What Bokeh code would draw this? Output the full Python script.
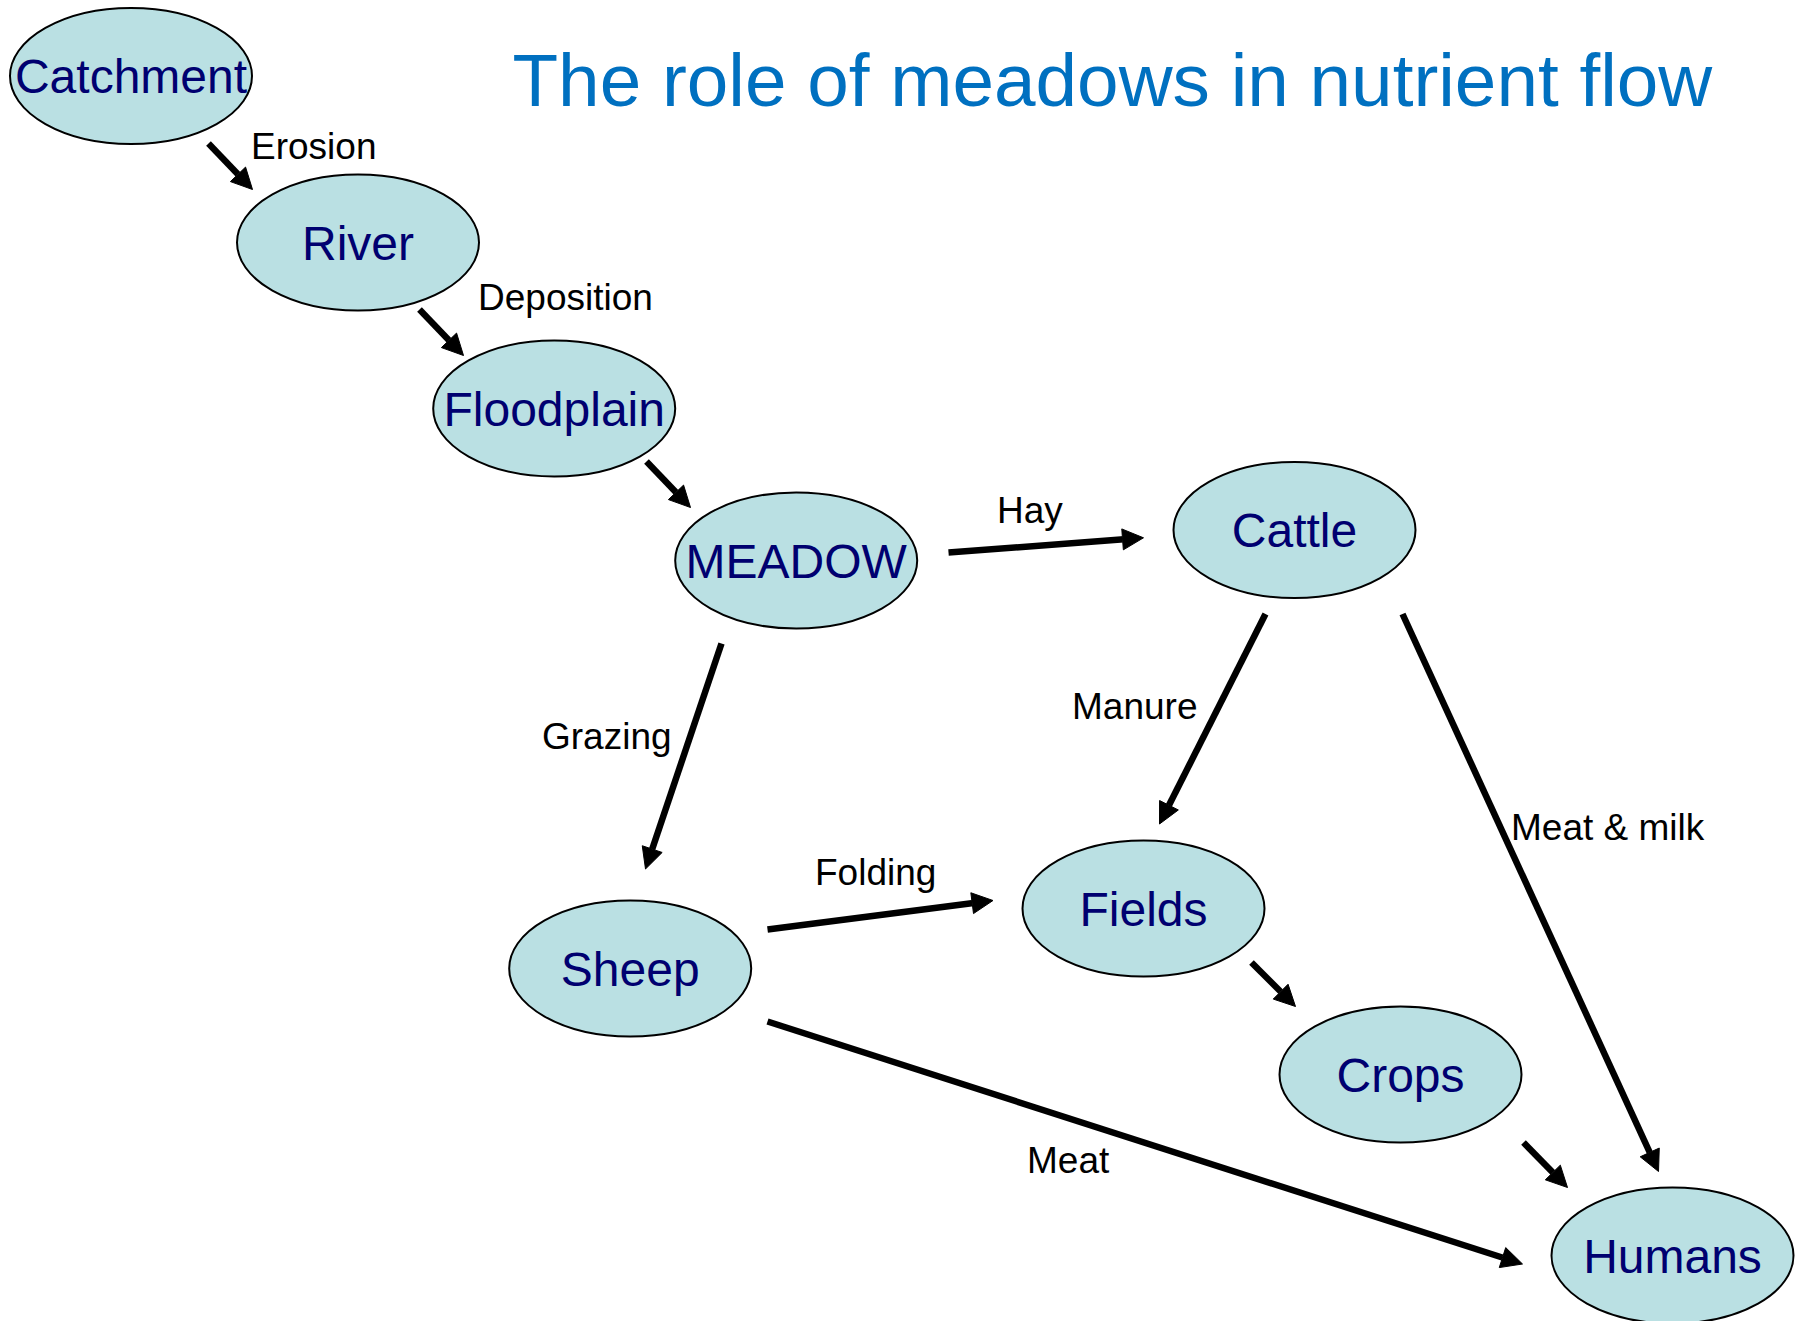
from bokeh.plotting import figure
from bokeh.models import ColumnDataSource, Range1d, Arrow, NormalHead
from bokeh.core.properties import value
from bokeh.embed import file_html
from bokeh.resources import INLINE

# ---- data (diagram layout in page pixels) ----
title = "The role of meadows in nutrient flow"

node_names = ["Catchment", "River", "Floodplain", "MEADOW", "Cattle",
              "Sheep", "Fields", "Crops", "Humans"]
node_x = [130.5, 357.5, 553.7, 795.7, 1294, 629.7, 1143, 1400, 1672]
node_y = [75.5, 242, 408, 560, 529.5, 968, 908, 1074, 1255]

edge_x0 = [208, 419, 646, 948, 721, 1265, 1402, 767, 1251, 1523, 767]
edge_y0 = [143, 309, 461, 552, 643, 613.5, 613.5, 929, 962, 1142, 1021]
edge_x1 = [252, 463, 690, 1143, 645, 1159, 1658, 992.5, 1295, 1567, 1522]
edge_y1 = [189, 355, 507, 537.3, 868.5, 823.5, 1171, 900, 1006, 1187, 1263.5]

label_text = ["Erosion", "Deposition", "Hay", "Grazing", "Manure",
              "Meat & milk", "Folding", "Meat"]
label_x = [250.5, 477.5, 996.5, 541.5, 1071.5, 1510.5, 814.5, 1026.5]
label_y = [159, 310, 522.3, 749, 718.7, 840, 885, 1172.7]

W, H = 1805, 1321
NODE_FS, EDGE_FS, TITLE_FS = 48, 37, 74.7
SHIFT = 0.345  # baseline correction (em)

p = figure(width=W, height=H, output_backend="svg", toolbar_location=None,
           x_range=Range1d(0, W), y_range=Range1d(H, 0),
           min_border=0, outline_line_color=None)
p.axis.visible = False
p.grid.visible = False
p.background_fill_color = "white"
p.border_fill_color = "white"

# arrows
esrc = ColumnDataSource(dict(x0=edge_x0, y0=edge_y0, x1=edge_x1, y1=edge_y1))
p.add_layout(Arrow(source=esrc, x_start="x0", y_start="y0", x_end="x1", y_end="y1",
                   line_width=6.5, line_color="black",
                   end=NormalHead(size=21, fill_color="black", line_color="black",
                                  line_width=1)))

# nodes
nsrc = ColumnDataSource(dict(x=node_x, y=node_y, name=node_names,
                             ty=[v + 17.5 - SHIFT * NODE_FS for v in node_y]))
p.ellipse(x="x", y="y", width=242, height=136, source=nsrc,
          fill_color="#BAE0E3", line_color="black", line_width=2)
p.text(x="x", y="ty", text="name", source=nsrc, text_align="center",
       text_baseline="alphabetic", text_font=value("Liberation Sans"),
       text_font_size=f"{NODE_FS}px", text_color="#000070")

# edge labels
lsrc = ColumnDataSource(dict(x=label_x, y=[v - SHIFT * EDGE_FS for v in label_y],
                             t=label_text))
p.text(x="x", y="y", text="t", source=lsrc, text_align="left",
       text_baseline="alphabetic", text_font=value("Liberation Sans"),
       text_font_size=f"{EDGE_FS}px", text_color="black")

# title
p.text(x=[512], y=[105 - SHIFT * TITLE_FS], text=[title], text_align="left",
       text_baseline="alphabetic", text_font=value("Liberation Sans"),
       text_font_size=f"{TITLE_FS}px", text_color="#0070C0")

open("out.html", "w").write(file_html(p, INLINE))
